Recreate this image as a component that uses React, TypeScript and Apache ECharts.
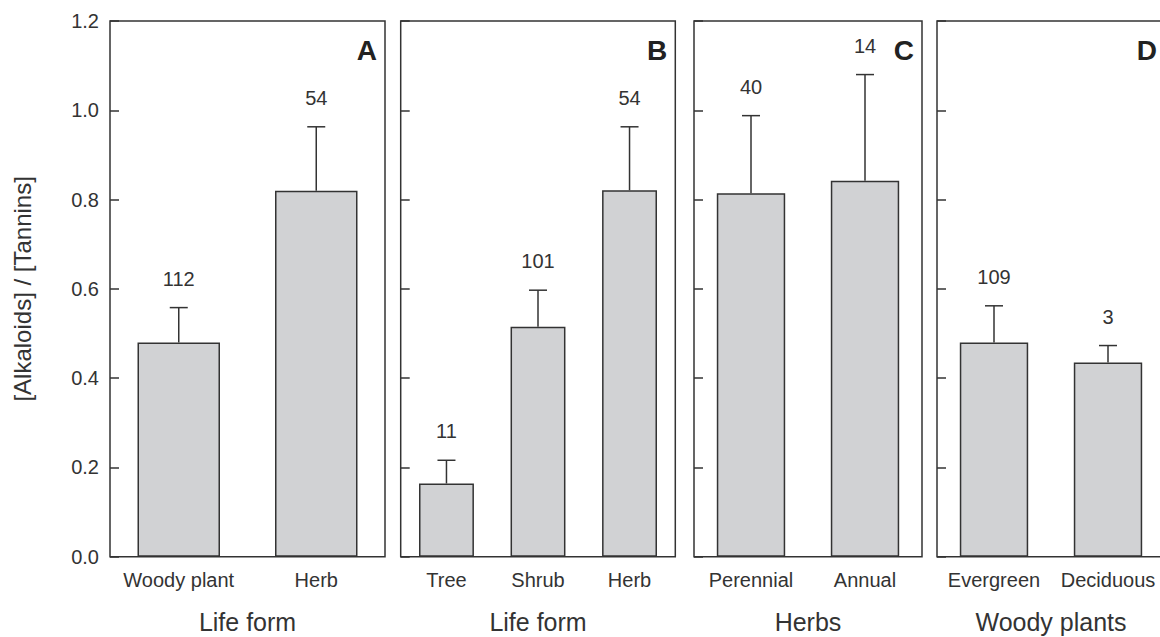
import React, { useEffect, useRef } from "react";
import * as echarts from "echarts";

// ---- data ----
const catsA = ["Woody plant", "Herb"];
const meanA = [0.48, 0.82];
const errA = [0.078, 0.143];
const nA = [112, 54];

const catsB = ["Tree", "Shrub", "Herb"];
const meanB = [0.164, 0.515, 0.821];
const errB = [0.052, 0.082, 0.142];
const nB = [11, 101, 54];

const catsC = ["Perennial", "Annual"];
const meanC = [0.814, 0.842];
const errC = [0.174, 0.238];
const nC = [40, 14];

const catsD = ["Evergreen", "Deciduous"];
const meanD = [0.48, 0.435];
const errD = [0.082, 0.038];
const nD = [109, 3];

const panelLetters = ["A", "B", "C", "D"];
const axisNames = ["Life form", "Life form", "Herbs", "Woody plants"];
const yAxisName = "[Alkaloids] / [Tannins]";
const yTicks = { min: 0, max: 1.2, interval: 0.2 };

const panels = [
  { cats: catsA, mean: meanA, err: errA, n: nA },
  { cats: catsB, mean: meanB, err: errB, n: nB },
  { cats: catsC, mean: meanC, err: errC, n: nC },
  { cats: catsD, mean: meanD, err: errD, n: nD },
];

// ---- layout ----
const FONT = '"Liberation Sans", Arial, Helvetica, sans-serif';
const INK = "#333333";
const GRID_TOP = 21;
const GRID_H = 535.7;
const gridBoxes = [
  { left: 110, width: 275 },
  { left: 400.7, width: 274.6 },
  { left: 694, width: 228 },
  { left: 937, width: 228 },
];

export default function App() {
  const ref = useRef<HTMLDivElement>(null);
  useEffect(() => {
    if (!ref.current) return;
    const chart = echarts.init(ref.current, null, { renderer: "svg" });

    const grid = gridBoxes.map((g) => ({
      left: g.left,
      width: g.width,
      top: GRID_TOP,
      height: GRID_H,
      show: true,
      borderColor: INK,
      borderWidth: 1.5,
      backgroundColor: "transparent",
      containLabel: false,
      outerBoundsMode: "none",
    }));

    const xAxis = panels.map((p, i) => ({
      type: "category",
      gridIndex: i,
      data: p.cats,
      axisLine: { show: false },
      axisTick: { show: false },
      axisLabel: { interval: 0, fontSize: 20, color: INK, fontFamily: FONT, margin: 13 },
      name: axisNames[i],
      nameLocation: "middle",
      nameGap: 53,
      nameTextStyle: { fontSize: 25, color: INK, fontFamily: FONT },
    }));

    const yAxis = panels.map((_, i) => ({
      type: "value",
      gridIndex: i,
      min: yTicks.min,
      max: yTicks.max,
      interval: yTicks.interval,
      splitLine: { show: false },
      axisLine: { show: false },
      axisTick: { show: true, inside: true, length: 9, lineStyle: { color: INK, width: 1.5 } },
      axisLabel: {
        show: i === 0,
        fontSize: 20,
        color: INK,
        fontFamily: FONT,
        margin: 11,
        formatter: (v: number) => v.toFixed(1),
      },
      name: i === 0 ? yAxisName : "",
      nameLocation: "middle",
      nameGap: 76,
      nameTextStyle: { fontSize: 24, color: INK, fontFamily: FONT },
    }));

    const series: any[] = [];
    panels.forEach((p, i) => {
      series.push({
        type: "bar",
        xAxisIndex: i,
        yAxisIndex: i,
        data: p.mean,
        barWidth: "60%",
        itemStyle: { color: "#d1d2d4", borderColor: INK, borderWidth: 1.5 },
        silent: true,
      });
      series.push({
        type: "custom",
        xAxisIndex: i,
        yAxisIndex: i,
        z: 3,
        encode: { x: 0, y: [1, 2] },
        data: p.mean.map((m, k) => [k, m, m + p.err[k], p.n[k]]),
        renderItem: (_params: any, api: any) => {
          const x = api.value(0);
          const m = api.value(1);
          const up = api.value(2);
          const n = api.value(3);
          const p0 = api.coord([x, m]);
          const p1 = api.coord([x, up]);
          const ls = { stroke: INK, lineWidth: 1.5 };
          return {
            type: "group",
            children: [
              { type: "line", shape: { x1: p0[0], y1: p0[1], x2: p1[0], y2: p1[1] }, style: ls },
              { type: "line", shape: { x1: p1[0] - 9, y1: p1[1], x2: p1[0] + 9, y2: p1[1] }, style: ls },
              {
                type: "text",
                x: p1[0],
                y: p1[1] - 29,
                style: {
                  text: String(n),
                  fill: INK,
                  fontSize: 20,
                  fontFamily: FONT,
                  align: "center",
                  verticalAlign: "middle",
                },
              },
            ],
          };
        },
      });
    });

    const graphic = gridBoxes.map((g, i) => ({
      type: "text",
      x: g.left + g.width - 8,
      y: GRID_TOP + 29,
      style: {
        text: panelLetters[i],
        fill: "#222",
        fontSize: 28,
        fontWeight: "bold",
        fontFamily: FONT,
        align: "right",
        verticalAlign: "middle",
      },
    }));

    chart.setOption({
      animation: false,
      backgroundColor: "#ffffff",
      grid,
      xAxis,
      yAxis,
      series,
      graphic,
    } as any);

    return () => chart.dispose();
  }, []);

  return (
    <div
      ref={ref}
      style={{ position: "absolute", left: 0, top: 0, width: 1160, height: 637 }}
    />
  );
}
